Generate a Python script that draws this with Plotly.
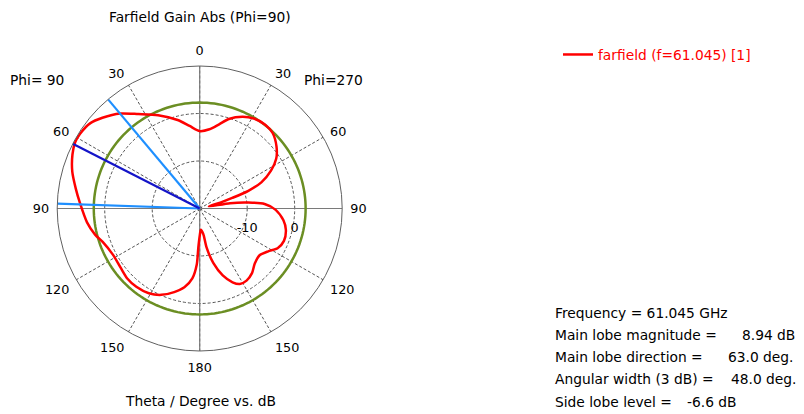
import plotly.graph_objects as go

# the page body has an 8px default margin, so the figure is sized to fit inside the window
PAGE_OFF = 8
W, H = 804 - PAGE_OFF, 414 - PAGE_OFF

# ---------------- data ----------------
# plot angle: clockwise from top; 0..180 = Phi=270 side (right), 180..360 = Phi=90 side (left)
plot_angle = [0, 7, 13, 18, 25, 31, 38, 44, 51, 57, 62, 67, 70, 72, 74, 77, 80, 83, 86,
              91, 98, 104, 111, 117, 122, 128, 135, 141, 147, 152, 156, 161, 166, 170,
              172, 177, 180, 182, 183, 186, 191, 197, 204, 211, 219, 226, 233, 242, 251,
              256, 263, 273, 279, 286, 293, 298, 302, 308, 313, 320, 327, 336, 346, 353, 360]
gain_db = [-3.7, -3.2, -1.8, -0.2, 1.3, 2.1, 2.4, 2.1, 0.8, -0.8, -3.0, -5.9, -9.1, -12.8, -15.5, -18.0, -13.5, -9.7, -6.3,
           -4.0, -2.2, -1.3, -1.0, -1.6, -3.0, -4.0, -3.6, -2.5, -1.9, -2.0, -3.0, -5.1, -8.2, -11.7,
           -14.6, -15.5, -14.2, -11.8, -8.2, -5.2, -3.1, -1.6, -0.1, 0.8, 1.2, 1.2, 0.8, 0.7, 1.6,
           2.7, 3.9, 5.3, 6.4, 7.9, 9.1, 9.7, 9.7, 9.2, 8.0, 6.1, 3.7, 1.5, -0.8, -2.5, -3.7]

green_level_db = 2.3          # constant reference circle
main_lobe_theta = 63.0        # deg, on Phi=90 side
beam_edges_theta = [40.0, 88.0]

r_min, r_max = -20, 10
radial_ticks = [-10, 0]
radial_ticktext = ["-10", "0"]
ang_tickvals = [0, 30, 60, 90, 120, 150, 180, 210, 240, 270, 300, 330]
ang_ticktext = ["0", "30", "60", "90", "120", "150", "180", "150", "120", "90", "60", "30"]

info_labels = ["Main lobe magnitude =", "Main lobe direction =", "Angular width (3 dB) =", "Side lobe level ="]
info_values = ["8.94 dB", "63.0 deg.", "48.0 deg.", "-6.6 dB"]
freq_text = "Frequency = 61.045 GHz"
legend_name = "farfield (f=61.045) [1]"

FONT = "DejaVu Sans"
FS = 13.8
TICK_FS = 12.8


def px(x):
    """page pixel x -> paper fraction"""
    return (x - PAGE_OFF) / W


def py(y):
    """page pixel y (from top) -> paper fraction"""
    return 1 - (y - PAGE_OFF) / H


fig = go.Figure()

# solid axis cross
fig.add_trace(go.Scatterpolar(r=[r_max, r_min, r_max], theta=[0, 0, 180], mode="lines",
                              line=dict(color="#7a7a7a", width=1.2), showlegend=False, hoverinfo="skip"))
fig.add_trace(go.Scatterpolar(r=[r_max, r_min, r_max], theta=[90, 90, 270], mode="lines",
                              line=dict(color="#7a7a7a", width=1.2), showlegend=False, hoverinfo="skip"))

# green reference circle
circ_t = list(range(0, 361, 2))
fig.add_trace(go.Scatterpolar(r=[green_level_db] * len(circ_t), theta=circ_t, mode="lines",
                              line=dict(color="#6b8e23", width=2.5), showlegend=False, hoverinfo="skip"))

# red farfield curve
fig.add_trace(go.Scatterpolar(r=gain_db, theta=plot_angle, mode="lines", name=legend_name,
                              line=dict(color="#ff0000", width=2.5, shape="spline", smoothing=0.7)))

# beam lines (Phi=90 side -> plot angle = 360 - theta)
for t in beam_edges_theta:
    fig.add_trace(go.Scatterpolar(r=[r_min, r_max], theta=[360 - t, 360 - t], mode="lines",
                                  line=dict(color="#1e8fff", width=2.2), showlegend=False, hoverinfo="skip"))
fig.add_trace(go.Scatterpolar(r=[r_min, r_max], theta=[360 - main_lobe_theta] * 2, mode="lines",
                              line=dict(color="#1414c8", width=2.2), showlegend=False, hoverinfo="skip"))

cx, cy, R = 199.7, 208.5, 142.5
fig.update_layout(
    width=W, height=H,
    margin=dict(l=0, r=0, t=0, b=0),
    paper_bgcolor="white",
    font=dict(family=FONT, size=FS, color="black"),
    polar=dict(
        domain=dict(x=[px(cx - R), px(cx + R)], y=[py(cy + R), py(cy - R)]),
        bgcolor="white",
        angularaxis=dict(direction="clockwise", rotation=90,
                         tickmode="array", tickvals=ang_tickvals, ticktext=ang_ticktext,
                         ticks="outside", ticklen=5, tickcolor="rgba(0,0,0,0)",
                         showline=True, linecolor="#606060", linewidth=1,
                         showgrid=True, gridcolor="#555555", griddash="3px,2px", gridwidth=0.8,
                         tickfont=dict(family=FONT, size=TICK_FS, color="black")),
        radialaxis=dict(range=[r_min, r_max], tickmode="array", tickvals=radial_ticks,
                        ticktext=radial_ticktext, angle=0, side="clockwise",
                        showline=False, ticks="outside", ticklen=8, tickcolor="rgba(0,0,0,0)",
                        showgrid=True, gridcolor="#555555",
                        griddash="3px,2px", gridwidth=0.8,
                        tickfont=dict(family=FONT, size=TICK_FS, color="black")),
    ),
    legend=dict(x=px(558), y=py(39), xanchor="left", yanchor="top",
                font=dict(family=FONT, size=FS, color="#ff0000"), bgcolor="rgba(0,0,0,0)"),
    showlegend=True,
)

ann = [
    dict(text="Farfield Gain Abs (Phi=90)", x=px(200), y=py(17), xanchor="center"),
    dict(text="Phi= 90", x=px(8), y=py(80), xanchor="left"),
    dict(text="Phi=270", x=px(333), y=py(80), xanchor="center"),
    dict(text="Theta / Degree vs. dB", x=px(200), y=py(401), xanchor="center"),
]
for a in ann:
    fig.add_annotation(xref="paper", yref="paper", showarrow=False, yanchor="middle",
                       font=dict(family=FONT, size=FS, color="black"), **a)

fig.add_annotation(xref="paper", yref="paper", showarrow=False, xanchor="left", yanchor="middle",
                   x=px(553), y=py(313), text=freq_text, font=dict(family=FONT, size=FS, color="black"))
value_x = [740, 726, 729, 685]
for i, (lab, val) in enumerate(zip(info_labels, info_values)):
    yy = 335 + 22.2 * i
    fig.add_annotation(xref="paper", yref="paper", showarrow=False, xanchor="left", yanchor="middle",
                       x=px(553), y=py(yy), text=lab, font=dict(family=FONT, size=FS, color="black"))
    fig.add_annotation(xref="paper", yref="paper", showarrow=False, xanchor="left", yanchor="middle",
                       x=px(value_x[i]), y=py(yy), text=val, font=dict(family=FONT, size=FS, color="black"))

fig.write_html("out.html")
